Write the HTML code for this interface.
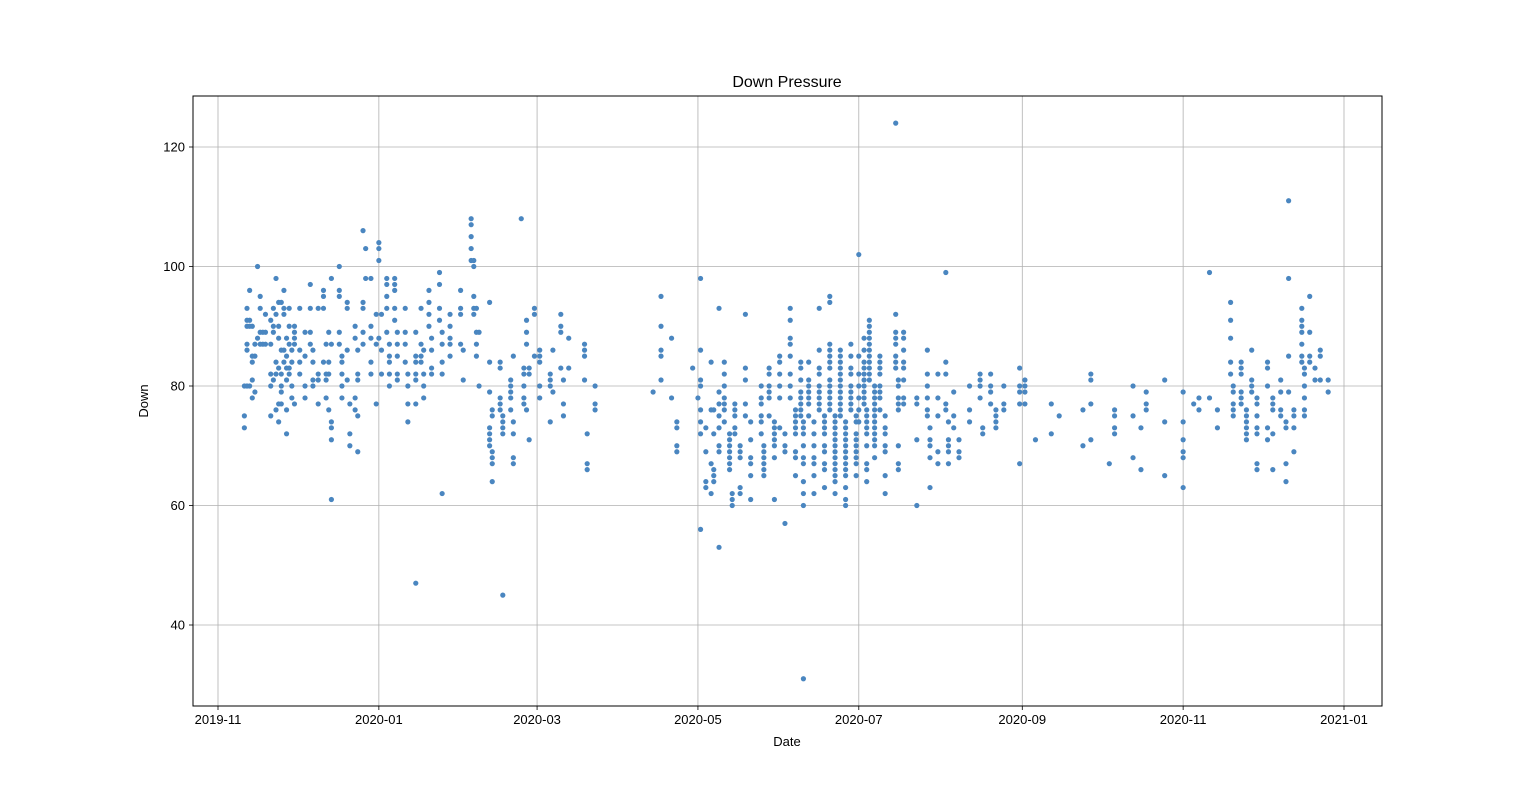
<!DOCTYPE html>
<html><head><meta charset="utf-8"><style>
body{margin:0;background:#fff;}
svg{display:block;font-family:"Liberation Sans","DejaVu Sans",sans-serif;}
</style></head><body>
<svg id="chart" width="1536" height="793" viewBox="0 0 1536 793" xmlns="http://www.w3.org/2000/svg">
<rect width="1536" height="793" fill="#fff"/>
<g id="grid"></g>
<g id="points"></g>
<rect x="193" y="96" width="1189" height="610" fill="none" stroke="#000" stroke-width="1"/>
<g id="xticks"></g>
<g id="yticks"></g>
<text x="787" y="87" text-anchor="middle" font-size="16">Down Pressure</text>
<text x="787" y="746" text-anchor="middle" font-size="13">Date</text>
<text transform="translate(148,401) rotate(-90)" text-anchor="middle" font-size="13">Down</text>
</svg>
<script>
// days since 2019-11-01, followed by the readings for that day
const readings = [
[10,75,73,80],[11,86,87,90,91,93,80],[12,96,90,91,80],[13,85,78,81,84,90],[14,85,79,87],[15,100,88],[16,95,93,87,89],[17,89,87],[18,92,89,87],[20,82,87,91,80,75],[21,90,81,89,93],[22,98,82,76,84,92],[23,74,77,83,88,94,90],[24,79,82,86,80,94,77],[25,96,92,93,86,84],[26,83,81,72,76,85,88],[27,87,83,90,93,82],[28,84,86,80,78],[29,90,89,87,88,77],
[31,93,86,82,84],[33,89,85,80,78],[35,97,93,89,87],[36,86,84,81,80],[38,82,77,81,93],[40,95,93,96,84],[41,82,78,87,81],[42,89,84,82,76],[43,74,71,73,61,98,87],[46,100,96,95,89,87],[47,82,80,78,85,84],[49,94,93,86,81],[50,77,72,70],[52,90,88,78,76],[53,69,81,75,82,86],[55,106,94,93,89,87],[56,103,98],[58,98,90,88,84,82],[60,87,77,92],
[61,104,103,101,88],[62,86,92,82],[64,98,97,95,93,89],[65,87,85,82,80,84],[67,98,97,96,93,91],[68,89,87,85,82,81],[71,93,89,87,84],[72,82,77,74,80],[75,89,85,84,82,81,77,47],[77,93,87,85,84],[78,82,80,78,86],[80,96,94,92,90],[81,88,86,83,82],[84,99,97,93,91],[85,89,87,84,62,82],[88,92,88,87,85,90],[92,96,93,92,87],[93,86,81],[96,101,108,107,105,103],[97,101,100,95,93,92],[98,89,87,85,93],[99,89,80],
[103,94,79,84,73,72,71,70],[104,69,68,67,64,76,75],[107,84,83,78,77,76],[108,75,74,73,72,45],[111,81,80,79,78,76],[112,74,72,68,67,85],[115,108],[116,83,82,80,78,77],[117,76,91,89,87],[118,83,82,71],[120,85,92,93],
[122,85,84,80,78,86],[126,82,81,80,74],[127,79,86],[130,92,90,89,83],[131,81,77,75],[133,88,83],[139,87,86,85,81],[140,72,67,66],[143,77,76,80],
[165,79],[168,95,90,86,85,81],[172,88,78],[174,74,73,70,69],[180,83],[182,78],
[183,98,81,80,76,74,72,56,86],[185,73,69,64,63],[187,62,84,76,67],[188,76,72,66,65,64],[190,93,79,77,75,73,70,69,53],[192,84,82,80,78,77,76,74],[194,72,71,70,69,68,67,66],[195,62,61,60],[196,77,76,75,73,72],[198,70,69,68,63,62],[200,83,92,81,77,75],[202,74,71,68,67,65,61],[206,80,78,77,75,74,72],[207,70,69,68,67,66,65],[209,83,82,80,79,78,75],[211,74,73,72,71,70,68,61],
[213,85,84,82,80,78,73],[215,72,70,69,57],[217,93,91,88,87,85,82,80,78],[219,76,75,74,73,72,69,68,65],[221,84,83,81,79,78,77,76,75],[222,74,73,72,70,68,67,64,62,60,31],[224,84,81,80,79,78,77,75],[226,74,72,70,68,67,65,62],[228,93,86,83,82,80,79,78,77,76],[230,75,74,73,72,70,69,67,66,63],[232,95,94,87,86,85,84,83,81,80,79,78,77,76],[234,75,74,73,72,71,70,69,68,67,66,65,64,62],[236,86,85,84,83,82,81,80,79,78,77,76,75],[238,74,73,72,71,70,69,68,67,66,65,63,61,60],[240,87,85,83,82,80,79,78,77,76],[242,75,74,72,71,70,69,68,67,65],
[243,102,85,82,80,78,76,74],[245,88,86,84,83,82,81,80,79,78,77],[246,76,75,74,73,72,70,67,66,64],[247,91,90,89,88,87,86,85,84,83,82,81],[249,80,79,78,77,76,75,74,73,72,71,70,68],[251,85,84,83,82,80,79,78,76],[253,75,73,72,70,69,65,62],[257,124,92,89,88,87,85,84,83],[258,81,80,78,77,76,70,67,66],[260,89,88,86,84,83,81,78,77],[265,78,77,71,60],[269,86,82,80,78,76,75],[270,73,71,70,68,63],[273,82,78,75,69,67],
[276,99,84,82,77,76],[277,74,71,70,69,67],[279,79,75,73],[281,71,69,68],[285,80,76,74],[289,82,81,80,78],[290,73,72],[293,82,80,79,77],[295,76,75,74,73],[298,80,77,76],[304,83,80,79,77,67],
[306,81,80,79,77],[310,71],[316,77,72],[319,75],[328,76,70],[331,82,81,77,71],[338,67],[340,76,75,73,72],[347,80,75,68],[350,73,66],[352,79,77,76],[359,81,74,65],[366,79,74,71,69,68,63],
[370,77],[372,78,76],[376,99,78],[379,76,73],[384,94,91,88,84,82],[385,80,79,77,76,75],[388,84,83,82,79,78,77],[390,76,75,74,73,72,71],[392,86,81,80,79],[394,78,77,75,73,72,67,66],
[398,73,71,84,83,80],[400,78,77,76,72,66],[403,81,79,76,75],[405,74,73,67,64],[406,111,98,85,79],[408,76,75,73,69],[411,93,91,90,89,87,85,84],[412,83,82,80,78,76,75],[414,95,89,85,84],[416,83,81],[418,86,85,81],[421,81,79]
];
const yTicks = [40, 60, 80, 100, 120];
const xTickDays = [0, 61, 121, 182, 243, 305, 366, 427];
const xTickLabels = ["2019-11","2020-01","2020-03","2020-05","2020-07","2020-09","2020-11","2021-01"];

const NS = "http://www.w3.org/2000/svg";
function xScale(d){ return 218 + d * 2.637; }
function yScale(v){ return 864 - v * 5.975; }
function mk(tag, attrs, parent){
  const el = document.createElementNS(NS, tag);
  for (const k in attrs) el.setAttribute(k, attrs[k]);
  parent.appendChild(el);
  return el;
}
const grid = document.getElementById('grid');
const xt = document.getElementById('xticks');
const yt = document.getElementById('yticks');
const pts = document.getElementById('points');

xTickDays.forEach((d, i) => {
  const x = xScale(d);
  const gl = mk('line', {x1:x, x2:x, y1:96, y2:706, stroke:'#b0b0b0', 'stroke-width':0.8}, grid);
  
  
  const tk = mk('line', {x1:x, x2:x, y1:706, y2:710, stroke:'#000', 'stroke-width':0.8}, xt);
  
  
  const t = mk('text', {x:x, y:724, 'text-anchor':'middle', 'font-size':13}, xt);
  t.textContent = xTickLabels[i];
  
  
});
yTicks.forEach(v => {
  const y = yScale(v);
  const gl = mk('line', {x1:193, x2:1382, y1:y, y2:y, stroke:'#b0b0b0', 'stroke-width':0.8}, grid);
  
  
  const tk = mk('line', {x1:189, x2:193, y1:y, y2:y, stroke:'#000', 'stroke-width':0.8}, yt);
  
  
  const t = mk('text', {x:185, y:y + 4.5, 'text-anchor':'end', 'font-size':13}, yt);
  t.textContent = String(v);
  
  
});
readings.forEach(row => {
  const d = row[0];
  for (let i = 1; i < row.length; i++) {
    const c = mk('circle', {cx:xScale(d), cy:yScale(row[i]), r:2.6, fill:'#4a86c0'}, pts);
    
    
  }
});
</script>
</body></html>
